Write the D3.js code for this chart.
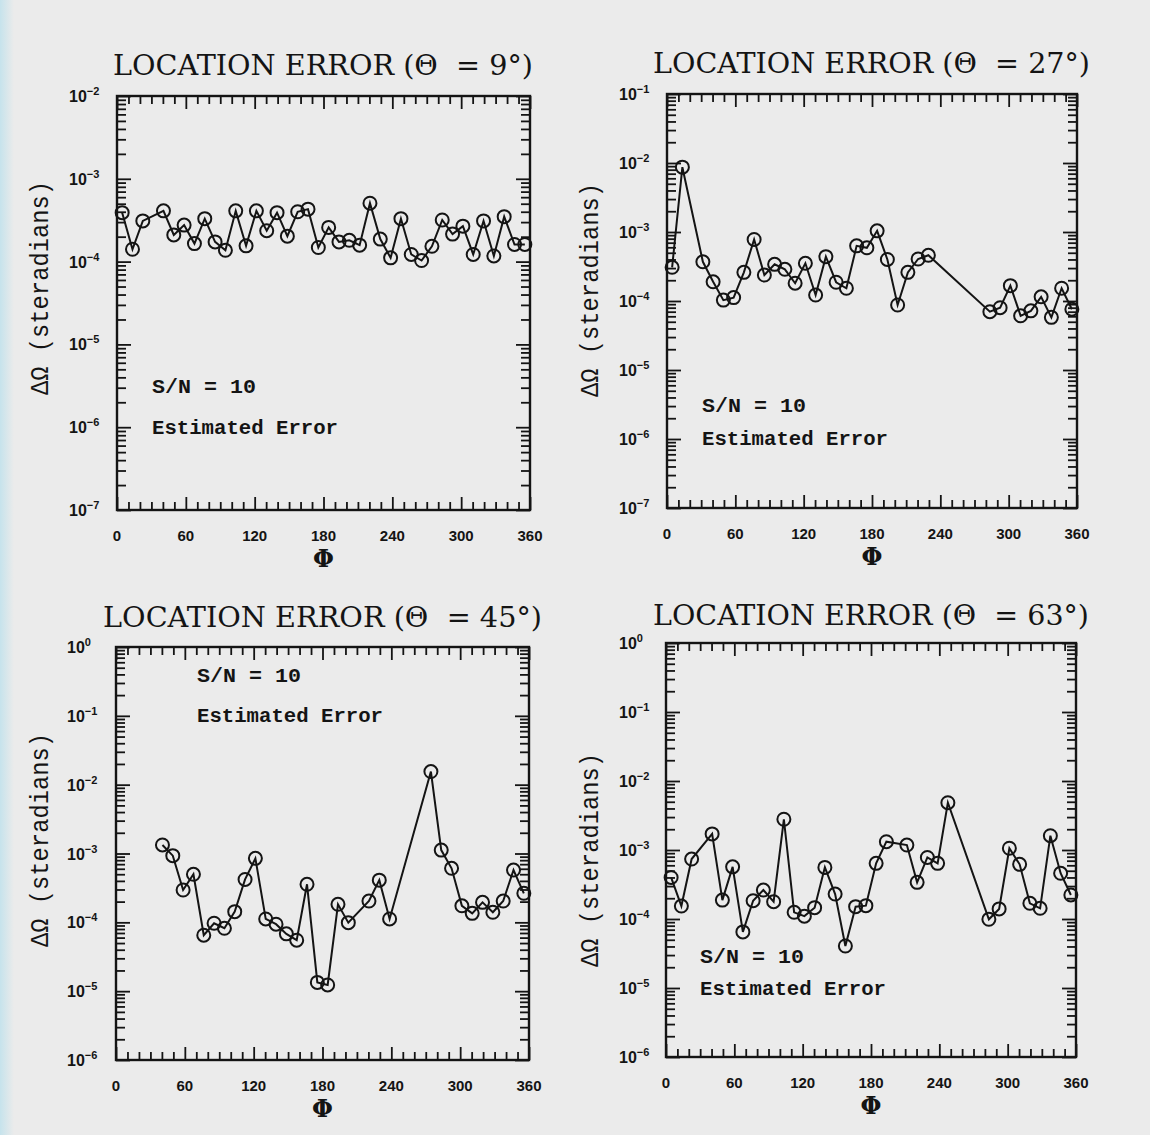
<!DOCTYPE html>
<html lang="en">
<head>
<meta charset="UTF-8">
<title>Location Error</title>
<script src="https://cdn.jsdelivr.net/npm/d3@7/dist/d3.min.js"></script>
<style>
  body { margin: 0; background: #ebebeb; }
  svg { display: block; }
  text { white-space: pre; }
</style>
</head>
<body>
<div id="chart"></div>
<script>
// --- data (phi in degrees, error in steradians) ---
const phi9 = [4.5, 13.5, 22.5, 40.5, 49.5, 58.5, 67.5, 76.5, 85.5, 94.5, 103.5, 112.5, 121.5, 130.5, 139.5, 148.5, 157.5, 166.5, 175.5, 184.5, 193.5, 202.5, 211.5, 220.5, 229.5, 238.5, 247.5, 256.5, 265.5, 274.5, 283.5, 292.5, 301.5, 310.5, 319.5, 328.5, 337.5, 346.5, 355.5];
const err9 = [3.9e-4, 1.41e-4, 3.1e-4, 4.1e-4, 2.1e-4, 2.76e-4, 1.65e-4, 3.3e-4, 1.73e-4, 1.37e-4, 4.1e-4, 1.55e-4, 4.1e-4, 2.36e-4, 3.9e-4, 2.03e-4, 4.0e-4, 4.3e-4, 1.48e-4, 2.59e-4, 1.73e-4, 1.81e-4, 1.58e-4, 5.07e-4, 1.87e-4, 1.11e-4, 3.3e-4, 1.22e-4, 1.03e-4, 1.53e-4, 3.18e-4, 2.15e-4, 2.68e-4, 1.22e-4, 3.1e-4, 1.17e-4, 3.49e-4, 1.61e-4, 1.61e-4];

const phi27 = [4.5, 13.5, 31.5, 40.5, 49.5, 58.5, 67.5, 76.5, 85.5, 94.5, 103.5, 112.5, 121.5, 130.5, 139.5, 148.5, 157.5, 166.5, 175.5, 184.5, 193.5, 202.5, 211.5, 220.5, 229.5, 283.5, 292.5, 301.5, 310.5, 319.5, 328.5, 337.5, 346.5, 355.5];
const err27 = [3.08e-4, 8.7e-3, 3.7e-4, 1.9e-4, 1.03e-4, 1.12e-4, 2.6e-4, 7.8e-4, 2.38e-4, 3.4e-4, 2.88e-4, 1.81e-4, 3.52e-4, 1.22e-4, 4.39e-4, 1.87e-4, 1.53e-4, 6.3e-4, 5.9e-4, 1.04e-3, 4.0e-4, 8.75e-5, 2.6e-4, 4.06e-4, 4.6e-4, 7.0e-5, 8.0e-5, 1.67e-4, 6.1e-5, 7.2e-5, 1.15e-4, 5.8e-5, 1.53e-4, 7.6e-5];

const phi45 = [40.5, 49.5, 58.5, 67.5, 76.5, 85.5, 94.5, 103.5, 112.5, 121.5, 130.5, 139.5, 148.5, 157.5, 166.5, 175.5, 184.5, 193.5, 202.5, 220.5, 229.5, 238.5, 274.5, 283.5, 292.5, 301.5, 310.5, 319.5, 328.5, 337.5, 346.5, 355.5];
const err45 = [1.33e-3, 9.3e-4, 2.95e-4, 4.99e-4, 6.5e-5, 9.7e-5, 8.2e-5, 1.43e-4, 4.2e-4, 8.5e-4, 1.12e-4, 9.4e-5, 6.8e-5, 5.5e-5, 3.57e-4, 1.34e-5, 1.23e-5, 1.83e-4, 9.9e-5, 2.04e-4, 4.1e-4, 1.12e-4, 1.55e-2, 1.12e-3, 6.1e-4, 1.74e-4, 1.35e-4, 1.95e-4, 1.40e-4, 2.04e-4, 5.75e-4, 2.64e-4];

const phi63 = [4.5, 13.5, 22.5, 40.5, 49.5, 58.5, 67.5, 76.5, 85.5, 94.5, 103.5, 112.5, 121.5, 130.5, 139.5, 148.5, 157.5, 166.5, 175.5, 184.5, 193.5, 211.5, 220.5, 229.5, 238.5, 247.5, 283.5, 292.5, 301.5, 310.5, 319.5, 328.5, 337.5, 346.5, 355.5];
const err63 = [4.0e-4, 1.54e-4, 7.4e-4, 1.71e-3, 1.88e-4, 5.7e-4, 6.5e-5, 1.84e-4, 2.63e-4, 1.78e-4, 2.79e-3, 1.25e-4, 1.10e-4, 1.46e-4, 5.6e-4, 2.3e-4, 4.06e-5, 1.51e-4, 1.56e-4, 6.4e-4, 1.32e-3, 1.18e-3, 3.4e-4, 7.8e-4, 6.4e-4, 4.85e-3, 9.9e-5, 1.40e-4, 1.06e-3, 6.2e-4, 1.69e-4, 1.43e-4, 1.61e-3, 4.6e-4, 2.23e-4];

const thetas = [9, 27, 45, 63];
const xTickLabels = [0, 60, 120, 180, 240, 300, 360];
const yDomains = [[1e-7, 1e-2], [1e-7, 1e-1], [1e-6, 1], [1e-6, 1]];
const noteLines = ["S/N = 10", "Estimated Error"];

const ink = "#141414";
const W = 1150, H = 1135;

const svg = d3.select("#chart").append("svg")
    .attr("width", W)
    .attr("height", H);

// paper background with the faint blue strip on the left edge
const defs = svg.append("defs");
const grad = defs.append("linearGradient").attr("id", "edge").attr("x1", 0).attr("x2", 1);
grad.append("stop").attr("offset", 0).attr("stop-color", "#c6e3ec");
grad.append("stop").attr("offset", 1).attr("stop-color", "#ebebeb");
svg.append("rect").attr("width", W).attr("height", H).attr("fill", "#ebebeb");
svg.append("rect").attr("width", 14).attr("height", H).attr("fill", "url(#edge)");

// layout of each panel (pixels)
const layout = [
    { left: 117, right: 530, top: 96, bottom: 510, titleX: 113, titleW: 420, titleY: 75, labX: 48, labY: 288, tickX: 69, noteX: 152, noteY: [393, 434] },
    { left: 667, right: 1077, top: 94, bottom: 508, titleX: 653, titleW: 437, titleY: 73, labX: 598, labY: 290, tickX: 619, noteX: 702, noteY: [412, 445] },
    { left: 116, right: 529, top: 647, bottom: 1060, titleX: 103, titleW: 439, titleY: 627, labX: 48, labY: 840, tickX: 67, noteX: 197, noteY: [682, 722] },
    { left: 666, right: 1076, top: 643, bottom: 1057, titleX: 653, titleW: 436, titleY: 625, labX: 598, labY: 860, tickX: 619, noteX: 700, noteY: [963, 995] }
];
const series = [[phi9, err9], [phi27, err27], [phi45, err45], [phi63, err63]];

function isDecade(v) {
    const l = Math.log10(v);
    return Math.abs(l - Math.round(l)) < 1e-6;
}

function drawPanel(i) {
    const p = layout[i];
    const [phis, errs] = series[i];
    const data = phis.map((d, k) => ({ phi: d, err: errs[k] }));
    const g = svg.append("g");

    const x = d3.scaleLinear().domain([0, 360]).range([p.left, p.right]);
    const y = d3.scaleLog().domain(yDomains[i]).range([p.bottom, p.top]);

    // ticks, all pointing inward
    const minorX = d3.range(0, 361, 10).filter(v => v % 60 !== 0);
    const allY = y.ticks();
    const minorY = allY.filter(v => !isDecade(v));
    const majorY = allY.filter(isDecade);

    const tickSets = [
        [d3.axisBottom(x).tickValues(minorX).tickSize(-8), 0, p.bottom],
        [d3.axisBottom(x).tickValues(xTickLabels).tickSize(-13), 0, p.bottom],
        [d3.axisTop(x).tickValues(minorX).tickSize(-8), 0, p.top],
        [d3.axisTop(x).tickValues(xTickLabels).tickSize(-13), 0, p.top],
        [d3.axisLeft(y).tickValues(minorY).tickSize(-9), p.left, 0],
        [d3.axisLeft(y).tickValues(majorY).tickSize(-14), p.left, 0],
        [d3.axisRight(y).tickValues(minorY).tickSize(-9), p.right, 0],
        [d3.axisRight(y).tickValues(majorY).tickSize(-14), p.right, 0]
    ];
    tickSets.forEach(([ax, tx, ty]) => {
        g.append("g")
            .attr("transform", `translate(${tx},${ty})`)
            .call(ax.tickFormat(""))
            .call(s => s.select(".domain").remove())
            .call(s => s.selectAll("line").attr("stroke", ink).attr("stroke-width", 1.8));
    });

    // frame
    g.append("rect")
        .attr("x", p.left).attr("y", p.top)
        .attr("width", p.right - p.left).attr("height", p.bottom - p.top)
        .attr("fill", "none").attr("stroke", ink).attr("stroke-width", 2.4);

    // x tick labels
    g.selectAll(".xlab").data(xTickLabels).enter().append("text")
        .attr("x", d => x(d))
        .attr("y", p.bottom + 31)
        .attr("text-anchor", "middle")
        .attr("font-family", "Liberation Sans, Arial, sans-serif")
        .attr("font-weight", "bold")
        .attr("font-size", 15)
        .attr("fill", ink)
        .text(d => d);

    // y tick labels 10^n
    const ylab = g.selectAll(".ylab").data(majorY).enter().append("text")
        .attr("x", p.tickX)
        .attr("y", d => y(d) + 6)
        .attr("font-family", "Liberation Sans, Arial, sans-serif")
        .attr("font-weight", "bold")
        .attr("font-size", 16)
        .attr("fill", ink);
    ylab.append("tspan").text("10");
    ylab.append("tspan")
        .attr("dy", -7)
        .attr("font-size", 11)
        .text(d => {
            const n = Math.round(Math.log10(d));
            return n === 0 ? "0" : "\u2212" + Math.abs(n);
        });

    // axis titles
    g.append("text")
        .attr("x", (p.left + p.right) / 2)
        .attr("y", p.bottom + 57)
        .attr("text-anchor", "middle")
        .attr("font-family", "DejaVu Serif, serif")
        .attr("font-weight", "bold")
        .attr("font-size", 24)
        .attr("fill", ink)
        .text("\u03A6");

    g.append("text")
        .attr("transform", `translate(${p.labX},${p.labY}) rotate(-90)`)
        .attr("text-anchor", "middle")
        .attr("font-family", "Liberation Mono, monospace")
        .attr("font-size", 25)
        .attr("textLength", 214)
        .attr("lengthAdjust", "spacingAndGlyphs")
        .attr("fill", ink)
        .text("\u0394\u03A9 (steradians)");

    g.append("text")
        .attr("x", p.titleX)
        .attr("y", p.titleY)
        .attr("font-family", "DejaVu Serif, serif")
        .attr("font-size", 27)
        .attr("textLength", p.titleW)
        .attr("lengthAdjust", "spacingAndGlyphs")
        .attr("fill", ink)
        .text(`LOCATION ERROR (\u0398  = ${thetas[i]}\u00B0)`);

    // annotation
    noteLines.forEach((t, k) => {
        g.append("text")
            .attr("x", p.noteX)
            .attr("y", p.noteY[k])
            .attr("font-family", "Liberation Mono, monospace")
            .attr("font-weight", "bold")
            .attr("font-size", 20)
            .attr("textLength", k === 0 ? 104 : 186)
            .attr("lengthAdjust", "spacingAndGlyphs")
            .attr("fill", ink)
            .text(t);
    });

    // data
    const line = d3.line().x(d => x(d.phi)).y(d => y(d.err));
    g.append("path")
        .datum(data)
        .attr("d", line)
        .attr("fill", "none")
        .attr("stroke", ink)
        .attr("stroke-width", 2);

    g.selectAll(".pt").data(data).enter().append("circle")
        .attr("cx", d => x(d.phi))
        .attr("cy", d => y(d.err))
        .attr("r", 6.5)
        .attr("fill", "none")
        .attr("stroke", ink)
        .attr("stroke-width", 2);
}

layout.forEach((_, i) => drawPanel(i));
</script>
</body>
</html>
